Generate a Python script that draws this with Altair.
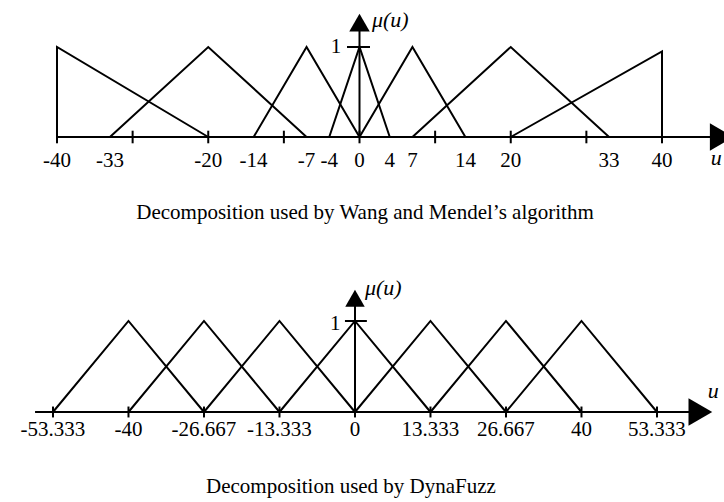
import altair as alt
import pandas as pd

FONT = "Liberation Serif"
PANEL_W, PANEL_H = 724, 251

# ---- Wang & Mendel partition of u: each set is (left foot, peak, right foot, peak height)
wm_left = [-40, -33, -14, -4, 0, 7, 20]
wm_peak = [-40, -20, -7, 0, 7, 20, 40]
wm_right = [-20, -7, 0, 4, 14, 33, 40]
wm_height = [1, 1, 1, 1, 1, 1, 0.95]
wm_tick_values = [-40, -30, -20, -10, 0, 10, 20, 30, 40]
wm_label_values = [-40, -33, -20, -14, -7, -4, 0, 4, 7, 14, 20, 33, 40]
wm_label_text = ["-40", "-33", "-20", "-14", "-7", "-4", "0", "4", "7", "14", "20", "33", "40"]
wm_caption = "Decomposition used by Wang and Mendel\u2019s algorithm"

# ---- DynaFuzz partition of u
df_left = [-53.333, -40, -26.667, -13.333, 0, 13.333, 26.667]
df_peak = [-40, -26.667, -13.333, 0, 13.333, 26.667, 40]
df_right = [-26.667, -13.333, 0, 13.333, 26.667, 40, 53.333]
df_height = [1, 1, 1, 1, 1, 1, 1]
df_label_values = [-53.333, -40, -26.667, -13.333, 0, 13.333, 26.667, 40, 53.333]
df_label_text = ["-53.333", "-40", "-26.667", "-13.333", "0", "13.333", "26.667", "40", "53.333"]
df_caption = "Decomposition used by DynaFuzz"


def triangle_table(left, peak, right, height):
    rows = []
    for i, (l, p, r, h) in enumerate(zip(left, peak, right, height)):
        rows += [
            {"set": i, "k": 0, "u": l, "mu": 0.0},
            {"set": i, "k": 1, "u": p, "mu": h},
            {"set": i, "k": 2, "u": r, "mu": 0.0},
        ]
    return pd.DataFrame(rows)


def panel(tri, tick_vals, label_vals, label_txt, caption, g):
    xs = alt.Scale(domain=g["xdom"], nice=False, zero=False)
    ys = alt.Scale(domain=g["ydom"], nice=False, zero=False)
    X = alt.X("u:Q", scale=xs, axis=None)
    Y = alt.Y("mu:Q", scale=ys, axis=None)

    sets = alt.Chart(tri).mark_line(color="black", strokeWidth=2, strokeJoin="miter").encode(
        x=X, y=Y, detail="set:N", order="k:O"
    )

    x_axis = alt.Chart(pd.DataFrame({"u": [g["axis_from"]], "u2": [g["axis_to"]], "mu": [0.0]})).mark_rule(
        color="black", strokeWidth=2
    ).encode(x=X, x2="u2:Q", y=Y)

    ticks = alt.Chart(pd.DataFrame({
        "u": tick_vals,
        "mu": [-g["tick"]] * len(tick_vals),
        "mu2": [g["tick"]] * len(tick_vals),
    })).mark_rule(color="black", strokeWidth=2).encode(x=X, y=Y, y2="mu2:Q")

    y_axis = alt.Chart(pd.DataFrame({"u": [0.0], "mu": [0.0], "mu2": [g["yaxis_top"]]})).mark_rule(
        color="black", strokeWidth=2
    ).encode(x=X, y=Y, y2="mu2:Q")

    one_tick = alt.Chart(pd.DataFrame({"u": [g["one_tick"][0]], "u2": [g["one_tick"][1]], "mu": [1.0]})).mark_rule(
        color="black", strokeWidth=2
    ).encode(x=X, x2="u2:Q", y=Y)

    # arrowhead of the u axis runs off the right edge, so it is clipped to the view
    x_head = alt.Chart(pd.DataFrame({"u": [g["xhead"]], "mu": [0.0]})).mark_point(
        shape="triangle-right", filled=True, color="black", opacity=1, size=g["xhead_size"], clip=True
    ).encode(x=X, y=Y)

    y_head = alt.Chart(pd.DataFrame({"u": [0.0], "mu": [g["yhead"]]})).mark_point(
        shape="triangle-up", filled=True, color="black", opacity=1, size=g["yhead_size"]
    ).encode(x=X, y=Y)

    labels = alt.Chart(pd.DataFrame({
        "u": label_vals, "mu": [g["label_y"]] * len(label_vals), "t": label_txt
    })).mark_text(font=FONT, fontSize=21, color="black", align="center", baseline="alphabetic").encode(
        x=X, y=Y, text="t:N"
    )

    one_label = alt.Chart(pd.DataFrame({"u": [g["one_x"]], "mu": [g["one_y"]], "t": ["1"]})).mark_text(
        font=FONT, fontSize=21, color="black", align="center", baseline="middle"
    ).encode(x=X, y=Y, text="t:N")

    mu_label = alt.Chart(pd.DataFrame({"u": [g["mu_x"]], "mu": [g["mu_y"]], "t": ["\u03bc(u)"]})).mark_text(
        font=FONT, fontSize=22, fontStyle="italic", color="black", align="left", baseline="alphabetic"
    ).encode(x=X, y=Y, text="t:N")

    u_label = alt.Chart(pd.DataFrame({"u": [g["u_x"]], "mu": [g["u_y"]], "t": ["u"]})).mark_text(
        font=FONT, fontSize=22, fontStyle="italic", color="black", align="left", baseline="alphabetic", clip=True
    ).encode(x=X, y=Y, text="t:N")

    cap = alt.Chart(pd.DataFrame({"t": [caption]})).mark_text(
        font=FONT, fontSize=21, color="black", align="center", baseline="alphabetic"
    ).encode(x=alt.value(g["cap_x"]), y=alt.value(g["cap_y"]), text="t:N")

    return alt.layer(
        sets, x_axis, ticks, y_axis, one_tick, x_head, y_head,
        labels, one_label, mu_label, u_label, cap
    ).properties(width=PANEL_W, height=PANEL_H)


wm_geom = {
    "xdom": [-47.537, 48.198], "ydom": [-1.2667, 1.5222],
    "axis_from": -40, "axis_to": 47.0, "tick": 0.07,
    "xhead": 47.9, "xhead_size": 750,
    "yaxis_top": 1.22, "yhead": 1.27, "yhead_size": 420,
    "one_tick": [-1.65, 1.39], "one_x": -3.1, "one_y": 1.0,
    "mu_x": 1.65, "mu_y": 1.222,
    "label_y": -0.333, "u_x": 46.45, "u_y": -0.31,
    "cap_x": 365, "cap_y": 219,
}

df_geom = {
    "xdom": [-62.69, 65.17], "ydom": [-0.989, 1.769],
    "axis_from": -56.5, "axis_to": 59.5, "tick": 0.06,
    "xhead": 61.0, "xhead_size": 750,
    "yaxis_top": 1.2, "yhead": 1.25, "yhead_size": 380,
    "one_tick": [-1.77, 2.1], "one_x": -3.5, "one_y": 0.97,
    "mu_x": 1.77, "mu_y": 1.286,
    "label_y": -0.264, "u_x": 62.3, "u_y": 0.154,
    "cap_x": 351, "cap_y": 242,
}

top = panel(triangle_table(wm_left, wm_peak, wm_right, wm_height),
            wm_tick_values, wm_label_values, wm_label_text, wm_caption, wm_geom)
bottom = panel(triangle_table(df_left, df_peak, df_right, df_height),
               df_label_values, df_label_values, df_label_text, df_caption, df_geom)

chart = alt.vconcat(top, bottom, spacing=0, bounds="flush").properties(
    padding=0, background="white"
).configure_view(stroke=None)

chart.save("out.html", embed_options={"renderer": "svg", "actions": False})
